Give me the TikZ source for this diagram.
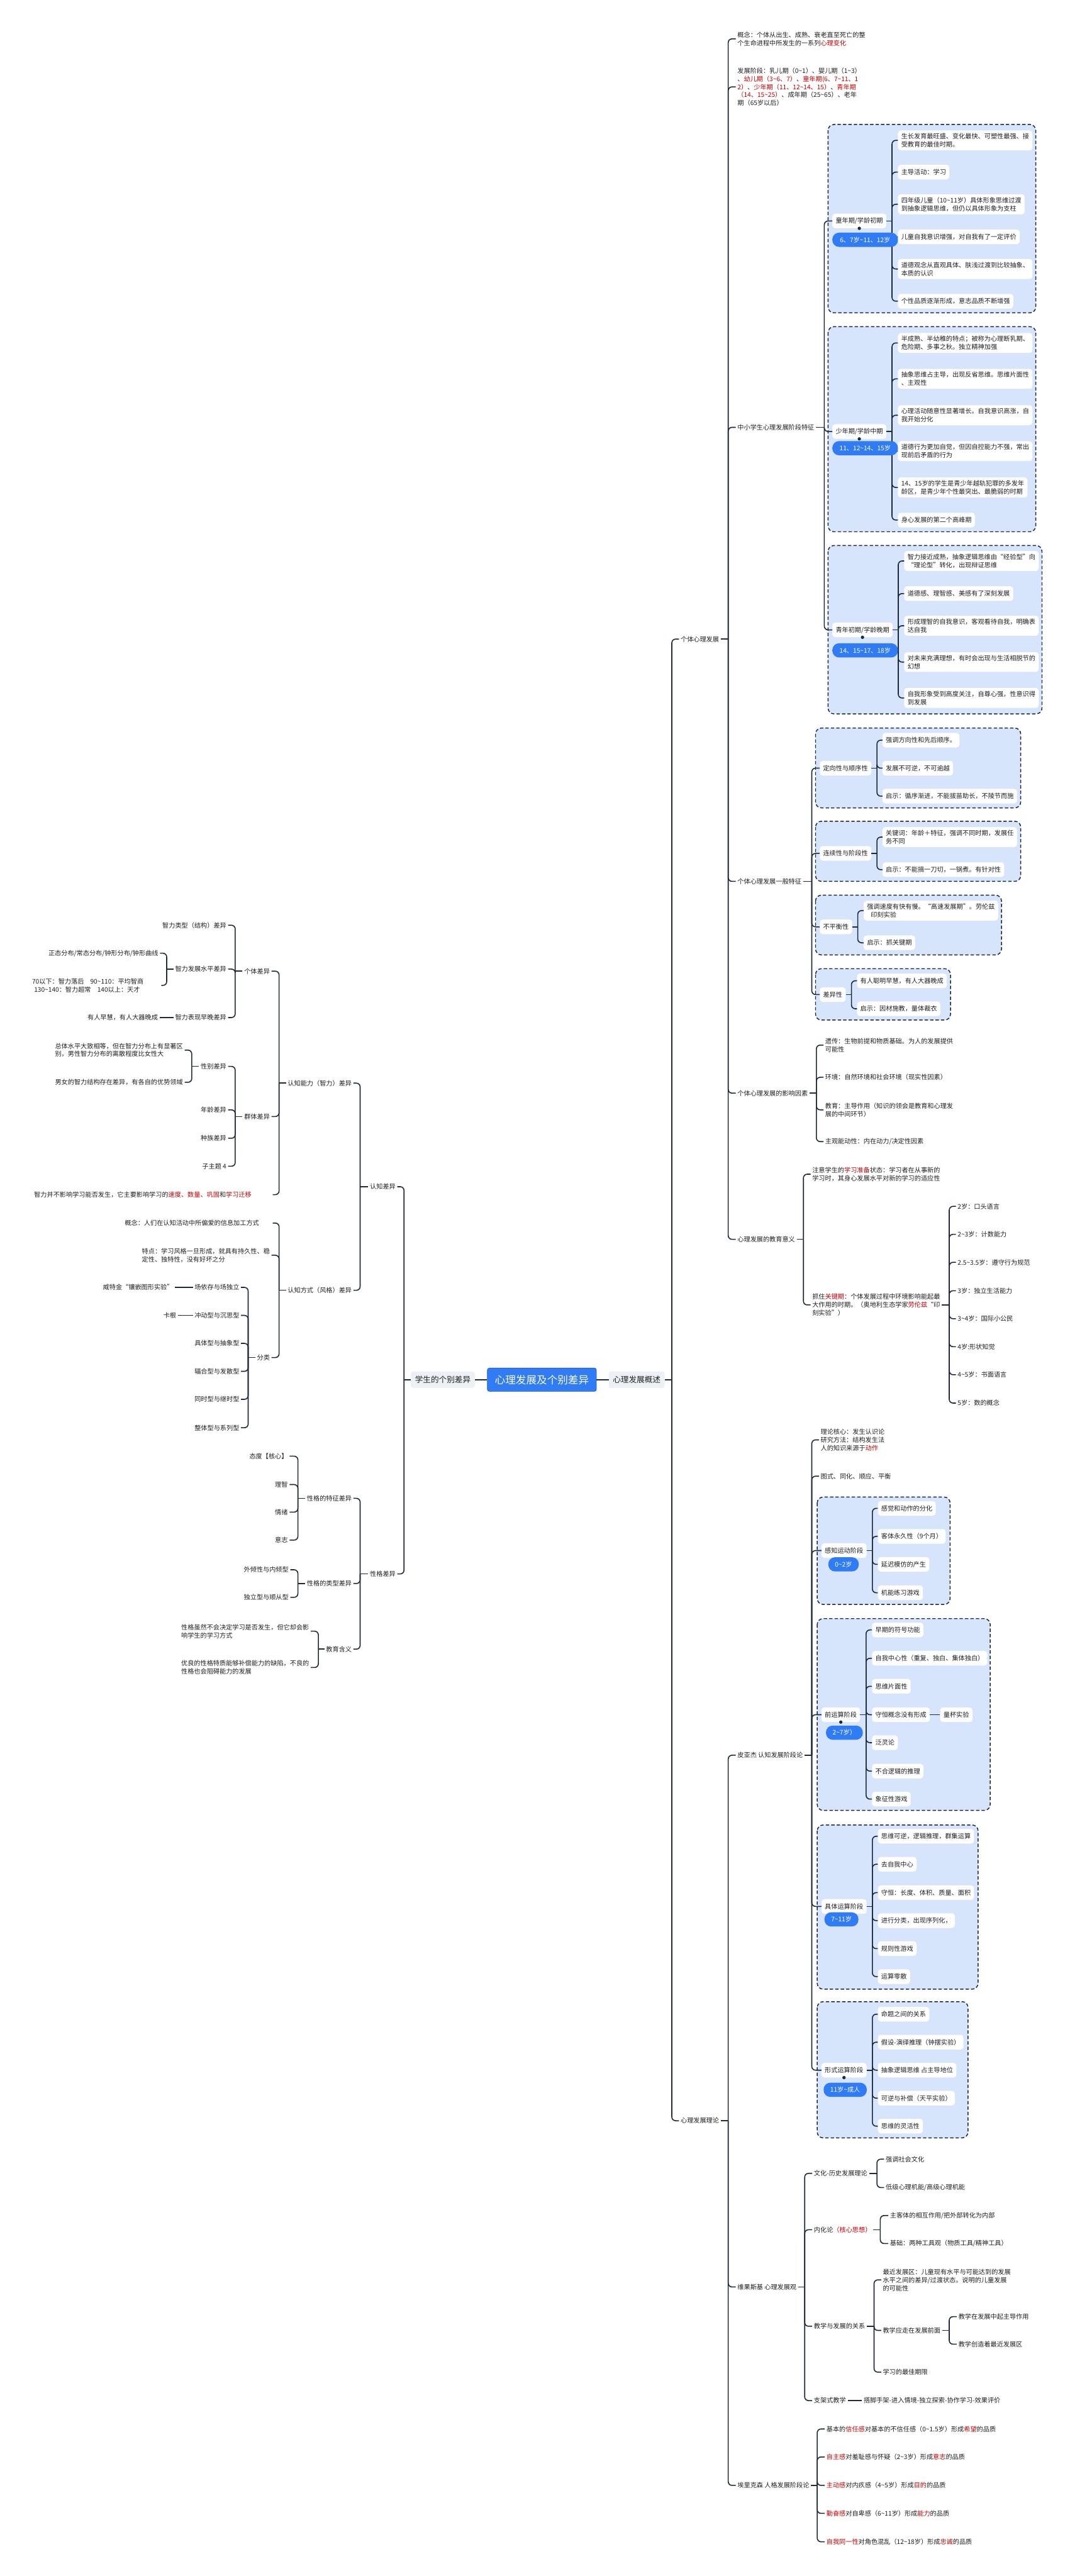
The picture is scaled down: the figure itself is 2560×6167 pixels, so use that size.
\documentclass[tikz,border=0pt]{standalone}
\usepackage{fontspec}
\setmainfont{Noto Sans CJK SC}
\usetikzlibrary{positioning}
\definecolor{xian}{HTML}{1D2A3B}
\definecolor{lan}{HTML}{2F7CF6}
\definecolor{qianlan}{HTML}{D6E4FC}
\definecolor{huibai}{HTML}{EDF1F6}
\definecolor{hong}{HTML}{C00000}
\definecolor{mo}{HTML}{1F1F1F}
\newcommand\hong[1]{\textcolor{hong}{#1}}
\newcommand\dao{\textasciitilde}
% 右侧分支：父节点 -> 竖线 -> 子节点
\newcommand\youlian[3]{%
  \draw[lianjie] (#1.east) -- (#1.east -| #2);
  \foreach \zi in {#3}{\draw[lianjie] (#1.east -| #2) |- (\zi.west);}}
% 左侧分支
\newcommand\zuolian[3]{%
  \draw[lianjie] (#1.west) -- (#1.west -| #2);
  \foreach \zi in {#3}{\draw[lianjie] (#1.west -| #2) |- (\zi.east);}}

\begin{document}
\begin{tikzpicture}[
  x=1pt, y=-1pt,
  font=\fontsize{15.3pt}{19.5pt}\selectfont,
  wenzi/.style={inner xsep=4pt, inner ysep=3pt, align=left, text=mo},
  you/.style={wenzi, anchor=west},
  zuo/.style={wenzi, anchor=east},
  baikuang/.style={fill=white, rounded corners=7pt, inner xsep=8pt, inner ysep=7pt,
                   minimum height=35pt, align=left, text=mo, anchor=west},
  jiaonang/.style={fill=lan, text=white, rounded corners=16pt, inner xsep=16pt,
                   inner ysep=4pt, minimum height=34pt},
  quyu/.style={draw=xian, fill=qianlan, line width=2.2pt, rounded corners=14pt,
               dash pattern=on 8pt off 5pt},
  lianjie/.style={draw=xian, line width=2.4pt, rounded corners=9pt},
  zhuti/.style={fill=lan, draw=lan!70!black, line width=1pt, text=white,
                font=\fontsize{25pt}{30pt}\selectfont, rounded corners=5pt,
                minimum width=261pt, minimum height=56pt},
  erji/.style={fill=huibai, text=mo, rounded corners=6pt,
               font=\fontsize{19pt}{23pt}\selectfont, inner xsep=10pt, minimum height=40pt}
]
\fill[white] (0,0) rectangle (2560,6167);
\useasboundingbox (0,0) rectangle (2560,6167);

% ---- 虚线区域 ----------------------------------------------------
\draw[quyu] (1982,298) rectangle (2479,749);    % 童年期
\draw[quyu] (1982,782) rectangle (2479,1273);   % 少年期
\draw[quyu] (1982,1306) rectangle (2494,1709);  % 青年初期
\draw[quyu] (1952,1743) rectangle (2443,1934);
\draw[quyu] (1952,1966) rectangle (2443,2110);
\draw[quyu] (1952,2143) rectangle (2397,2286);
\draw[quyu] (1952,2319) rectangle (2275,2442);
\draw[quyu] (1956,3584) rectangle (2274,3841);  % 感知运动
\draw[quyu] (1956,3875) rectangle (2370,4334);  % 前运算
\draw[quyu] (1956,4369) rectangle (2341,4762);  % 具体运算
\draw[quyu] (1956,4792) rectangle (2317,5118);  % 形式运算

% ---- 竖线位置 ----------------------------------------------------
\coordinate (k1) at (1608,0);  \coordinate (k2) at (1743,0);
\coordinate (k3) at (1973,0);  \coordinate (k4) at (2135,0);
\coordinate (k5) at (2150,0);  \coordinate (k6) at (1943,0);
\coordinate (k7) at (2099,0);  \coordinate (k8) at (2053,0);
\coordinate (k9) at (2038,0);  \coordinate (k10) at (1954,0);
\coordinate (k11) at (1923,0); \coordinate (k12) at (2272,0);
\coordinate (k13) at (2088,0); \coordinate (k14) at (2073,0);
\coordinate (k15) at (1926,0); \coordinate (k16) at (2107,0);
\coordinate (k17) at (2092,0); \coordinate (k18) at (1956,0);
\coordinate (m1) at (967,0);   \coordinate (m2) at (862,0);
\coordinate (m3) at (668,0);   \coordinate (m4) at (563,0);
\coordinate (m5) at (399,0);   \coordinate (m6) at (459,0);
\coordinate (m7) at (594,0);   \coordinate (m8) at (713,0);
\coordinate (m9) at (762,0);

% ---- 中心 ----------------------------------------------------------
\node[zhuti] (gen) at (1297,3303) {心理发展及个别差异};
\node[erji] (gaishu) at (1524,3303) {心理发展概述};
\node[erji] (chayi) at (1060,3303) {学生的个别差异};

% ---- 个体心理发展 --------------------------------------------------
\node[you] (geti) at (1625,1530) {个体心理发展};
\node[you] (lilun) at (1625,5077) {心理发展理论};
\node[you] (gn) at (1761,93) {概念：个体从出生、成熟、衰老直至死亡的整\\个生命进程中所发生的一系列\hong{心理变化}};
\node[you] (jd) at (1761,208) {发展阶段：乳儿期（0\dao{}1）、婴儿期（1\dao{}3）\\、\hong{幼儿期（3\dao{}6、7）}、\hong{童年期(6、7\dao{}11、1}\\\hong{2）}、\hong{少年期（11、12\dao{}14、15）}、\hong{青年期}\\\hong{（14、15\dao{}25）}、成年期（25\dao{}65）、老年\\期（65岁以后）};
\node[you] (zx) at (1761,1023) {中小学生心理发展阶段特征};
\node[you] (yb) at (1761,2110) {个体心理发展一般特征};
\node[you] (yx) at (1761,2617) {个体心理发展的影响因素};
\node[you] (jy) at (1761,2967) {心理发展的教育意义};

\node[baikuang] (tn) at (1992,529) {童年期/学龄初期};
\node[baikuang] (tn1) at (2149,336) {生长发育最旺盛、变化最快、可塑性最强、接\\受教育的最佳时期。};
\node[baikuang] (tn2) at (2149,412) {主导活动：学习};
\node[baikuang] (tn3) at (2149,489) {四年级儿童（10\dao{}11岁）具体形象思维过渡\\到抽象逻辑思维，但仍以具体形象为支柱};
\node[baikuang] (tn4) at (2149,567) {儿童自我意识增强，对自我有了一定评价};
\node[baikuang] (tn5) at (2149,644) {道德观念从直观具体、肤浅过渡到比较抽象、\\本质的认识};
\node[baikuang] (tn6) at (2149,721) {个性品质逐渐形成，意志品质不断增强};

\node[baikuang] (sn) at (1992,1033) {少年期/学龄中期};
\node[baikuang] (sn1) at (2149,821) {半成熟、半幼稚的特点；被称为心理断乳期、\\危险期、多事之秋。独立精神加强};
\node[baikuang] (sn2) at (2149,907) {抽象思维占主导，出现反省思维。思维片面性\\、主观性};
\node[baikuang] (sn3) at (2149,994) {心理活动随意性显著增长。自我意识高涨，自\\我开始分化};
\node[baikuang] (sn4) at (2149,1080) {道德行为更加自觉，但因自控能力不强，常出\\现前后矛盾的行为};
\node[baikuang] (sn5) at (2149,1167) {14、15岁的学生是青少年越轨犯罪的多发年\\龄区，是青少年个性最突出、最脆弱的时期};
\node[baikuang] (sn6) at (2149,1245) {身心发展的第二个高峰期};

\node[baikuang] (qn) at (1992,1508) {青年初期/学龄晚期};
\node[baikuang] (qn1) at (2164,1343) {智力接近成熟，抽象逻辑思维由“经验型”向\\“理论型”转化，出现辩证思维};
\node[baikuang] (qn2) at (2164,1421) {道德感、理智感、美感有了深刻发展};
\node[baikuang] (qn3) at (2164,1498) {形成理智的自我意识，客观看待自我，明确表\\达自我};
\node[baikuang] (qn4) at (2164,1585) {对未来充满理想，有时会出现与生活相脱节的\\幻想};
\node[baikuang] (qn5) at (2164,1671) {自我形象受到高度关注，自尊心强，性意识得\\到发展};

\node[baikuang] (dx) at (1962,1839) {定向性与顺序性};
\node[baikuang] (dx1) at (2112,1772) {强调方向性和先后顺序。};
\node[baikuang] (dx2) at (2112,1839) {发展不可逆，不可逾越};
\node[baikuang] (dx3) at (2112,1906) {启示：循序渐进，不能拔苗助长，不陵节而施};
\node[baikuang] (lx) at (1962,2043) {连续性与阶段性};
\node[baikuang] (lx1) at (2112,2004) {关键词：年龄＋特征，强调不同时期，发展任\\务不同};
\node[baikuang] (lx2) at (2112,2082) {启示：不能搞一刀切，一锅煮。有针对性};
\node[baikuang] (bp) at (1962,2219) {不平衡性};
\node[baikuang] (bp1) at (2067,2180) {强调速度有快有慢。“高速发展期”。劳伦兹\\\hspace*{9pt}印刻实验};
\node[baikuang] (bp2) at (2067,2257) {启示：抓关键期};
\node[baikuang] (cy) at (1962,2381) {差异性};
\node[baikuang] (cy1) at (2051,2348) {有人聪明早慧，有人大器晚成};
\node[baikuang] (cy2) at (2051,2415) {启示：因材施教，量体裁衣};

\node[you] (yx1) at (1971,2502) {遗传：生物前提和物质基础。为人的发展提供\\可能性};
\node[you] (yx2) at (1971,2579) {环境：自然环境和社会环境（现实性因素）};
\node[you] (yx3) at (1971,2657) {教育：主导作用（知识的领会是教育和心理发\\展的中间环节）};
\node[you] (yx4) at (1971,2733) {主观能动性：内在动力/决定性因素};

\node[you] (jy1) at (1940,2811) {注意学生的\hong{学习准备}状态：学习者在从事新的\\学习时，其身心发展水平对新的学习的适应性};
\node[you] (jy2) at (1940,3124) {抓住\hong{关键期}：个体发展过程中环境影响能起最\\大作用的时期。（奥地利生态学家\hong{劳伦兹}“印\\刻实验”）};
\node[you] (gj1) at (2288,2888) {2岁：口头语言};
\node[you] (gj2) at (2288,2955) {2\dao{}3岁：计数能力};
\node[you] (gj3) at (2288,3022) {2.5\dao{}3.5岁：遵守行为规范};
\node[you] (gj4) at (2288,3090) {3岁：独立生活能力};
\node[you] (gj5) at (2288,3157) {3\dao{}4岁：国际小公民};
\node[you] (gj6) at (2288,3224) {4岁:形状知觉};
\node[you] (gj7) at (2288,3291) {4\dao{}5岁：书面语言};
\node[you] (gj8) at (2288,3359) {5岁：数的概念};

% ---- 心理发展理论 --------------------------------------------------
\node[you] (pj) at (1761,4202) {皮亚杰 认知发展阶段论};
\node[you] (pj1) at (1960,3447) {理论核心：发生认识论\\研究方法：结构发生法\\人的知识来源于\hong{动作}};
\node[you] (pj2) at (1960,3534) {图式、同化、顺应、平衡};

\node[baikuang] (gz) at (1966,3712) {感知运动阶段};
\node[baikuang] (gz1) at (2101,3611) {感觉和动作的分化};
\node[baikuang] (gz2) at (2101,3678) {客体永久性（9个月）};
\node[baikuang] (gz3) at (2101,3745) {延迟模仿的产生};
\node[baikuang] (gz4) at (2101,3813) {机能练习游戏};

\node[baikuang] (qy) at (1966,4105) {前运算阶段};
\node[baikuang] (qy1) at (2087,3902) {早期的符号功能};
\node[baikuang] (qy2) at (2087,3970) {自我中心性（重复、独白、集体独白）};
\node[baikuang] (qy3) at (2087,4037) {思维片面性};
\node[baikuang] (qy4) at (2087,4105) {守恒概念没有形成};
\node[baikuang] (qy5) at (2087,4172) {泛灵论};
\node[baikuang] (qy6) at (2087,4240) {不合逻辑的推理};
\node[baikuang] (qy7) at (2087,4307) {象征性游戏};
\node[baikuang] (qyx) at (2250,4105) {量杯实验};

\node[baikuang] (jt) at (1966,4564) {具体运算阶段};
\node[baikuang] (jt1) at (2101,4396) {思维可逆，逻辑推理，群集运算};
\node[baikuang] (jt2) at (2101,4463) {去自我中心};
\node[baikuang] (jt3) at (2101,4531) {守恒：长度、体积、质量、面积};
\node[baikuang] (jt4) at (2101,4598) {进行分类，出现序列化，};
\node[baikuang] (jt5) at (2101,4665) {规则性游戏};
\node[baikuang] (jt6) at (2101,4732) {运算零散};

\node[baikuang] (xs) at (1966,4956) {形式运算阶段};
\node[baikuang] (xs1) at (2101,4822) {命题之间的关系};
\node[baikuang] (xs2) at (2101,4889) {假设-演绎推理（钟摆实验）};
\node[baikuang] (xs3) at (2101,4956) {抽象逻辑思维 占主导地位};
\node[baikuang] (xs4) at (2101,5023) {可逆与补偿（天平实验）};
\node[baikuang] (xs5) at (2101,5090) {思维的灵活性};

\node[you] (wg) at (1761,5475) {维果斯基 心理发展观};
\node[you] (wh) at (1944,5203) {文化-历史发展理论};
\node[you] (wh1) at (2116,5169) {强调社会文化};
\node[you] (wh2) at (2116,5237) {低级心理机能/高级心理机能};
\node[you] (nh) at (1944,5338) {内化论\hong{（核心思想）}};
\node[you] (nh1) at (2126,5304) {主客体的相互作用/把外部转化为内部};
\node[you] (nh2) at (2126,5371) {基础：两种工具观（物质工具/精神工具）};
\node[you] (jf) at (1944,5569) {教学与发展的关系};
\node[you] (jf1) at (2109,5458) {最近发展区：儿童现有水平与可能达到的发展\\水平之间的差异/过渡状态。说明的儿童发展\\的可能性};
\node[you] (jf2) at (2109,5579) {教学应走在发展前面};
\node[you] (zd1) at (2290,5546) {教学在发展中起主导作用};
\node[you] (zd2) at (2290,5612) {教学创造着最近发展区};
\node[you] (jf3) at (2109,5679) {学习的最佳期限};
\node[you] (zj) at (1944,5747) {支架式教学};
\node[you] (zjx) at (2063,5747) {搭脚手架-进入情境-独立探索-协作学习-效果评价};

\node[you] (ek) at (1761,5950) {埃里克森 人格发展阶段论};
\node[you] (ek1) at (1974,5815) {基本的\hong{信任感}对基本的不信任感（0\dao{}1.5岁）形成\hong{希望}的品质};
\node[you] (ek2) at (1974,5882) {\hong{自主感}对羞耻感与怀疑（2\dao{}3岁）形成\hong{意志}的品质};
\node[you] (ek3) at (1974,5950) {\hong{主动感}对内疚感（4\dao{}5岁）形成\hong{目的}的品质};
\node[you] (ek4) at (1974,6017) {\hong{勤奋感}对自卑感（6\dao{}11岁）形成\hong{能力}的品质};
\node[you] (ek5) at (1974,6085) {\hong{自我同一性}对角色混乱（12\dao{}18岁）形成\hong{忠诚}的品质};

% ---- 学生的个别差异 ------------------------------------------------
\node[zuo] (rz) at (951,2841) {认知差异};
\node[zuo] (xg) at (951,3768) {性格差异};
\node[zuo] (nl) at (846,2593) {认知能力（智力）差异};
\node[zuo] (fs) at (846,3089) {认知方式（风格）差异};
\node[zuo] (gt) at (650,2325) {个体差异};
\node[zuo] (qt) at (650,2673) {群体差异};
\node[zuo, text width=567pt] (nlx) at (653,2860) {智力并不影响学习能否发生，它主要影响学习的\hong{速度、数量、巩固}和\hong{学习迁移}};
\node[zuo] (gt1) at (546,2215) {智力类型（结构）差异};
\node[zuo] (gt2) at (546,2320) {智力发展水平差异};
\node[zuo] (gt3) at (546,2436) {智力表现早晚差异};
\node[zuo] (sp1) at (383,2282) {正态分布/常态分布/钟形分布/钟形曲线};
\node[zuo, text width=305pt] (sp2) at (386,2359) {70以下：智力落后　90\dao{}110：平均智商\\\hspace*{5pt}130\dao{}140：智力超常　140以上：天才};
\node[zuo] (zw) at (382,2436) {有人早慧，有人大器晚成};
\node[zuo] (xb) at (546,2553) {性别差异};
\node[zuo] (xb1) at (442,2514) {总体水平大致相等，但在智力分布上有显著区\\别，男性智力分布的离散程度比女性大};
\node[zuo] (xb2) at (442,2591) {男女的智力结构存在差异，有各自的优势领域};
\node[zuo] (nq) at (546,2657) {年龄差异};
\node[zuo] (zz) at (546,2725) {种族差异};
\node[zuo] (zt) at (546,2792) {子主题 4};
\node[zuo, text width=350pt] (fs1) at (653,2928) {概念：人们在认知活动中所偏爱的信息加工方式};
\node[zuo] (fs2) at (650,3005) {特点：学习风格一旦形成，就具有持久性、稳\\定性、独特性，没有好坏之分};
\node[zuo] (fl) at (650,3250) {分类};
\node[zuo] (fl1) at (577,3082) {场依存与场独立};
\node[zuo] (fl2) at (577,3149) {冲动型与沉思型};
\node[zuo] (fl3) at (577,3216) {具体型与抽象型};
\node[zuo] (fl4) at (577,3283) {辐合型与发散型};
\node[zuo] (fl5) at (577,3350) {同时型与继时型};
\node[zuo] (fl6) at (577,3418) {整体型与系列型};
\node[zuo] (wtj) at (419,3082) {威特金“镶嵌图形实验”};
\node[zuo] (kg) at (426,3149) {卡根};
\node[zuo] (tz) at (846,3587) {性格的特征差异};
\node[zuo] (tz1) at (693,3486) {态度【核心】};
\node[zuo] (tz2) at (693,3554) {理智};
\node[zuo] (tz3) at (693,3620) {情绪};
\node[zuo] (tz4) at (693,3687) {意志};
\node[zuo] (lxg) at (846,3791) {性格的类型差异};
\node[zuo] (lxg1) at (695,3758) {外倾性与内倾型};
\node[zuo] (lxg2) at (695,3824) {独立型与顺从型};
\node[zuo] (jh) at (846,3948) {教育含义};
\node[zuo] (jh1) at (744,3905) {性格虽然不会决定学习是否发生，但它却会影\\响学生的学习方式};
\node[zuo] (jh2) at (744,3992) {优良的性格特质能够补偿能力的缺陷，不良的\\性格也会阻碍能力的发展};

% ---- 连线 ----------------------------------------------------------
\draw[lianjie] (gen.west) -- (chayi.east);
\draw[lianjie] (gen.east) -- (gaishu.west);
\youlian{gaishu}{k1}{geti,lilun}
\youlian{geti}{k2}{gn,jd,zx,yb,yx,jy}
\youlian{zx}{k3}{tn,sn,qn}
\youlian{tn}{k4}{tn1,tn2,tn3,tn4,tn5,tn6}
\youlian{sn}{k4}{sn1,sn2,sn3,sn4,sn5,sn6}
\youlian{qn}{k5}{qn1,qn2,qn3,qn4,qn5}
\youlian{yb}{k6}{dx,lx,bp,cy}
\youlian{dx}{k7}{dx1,dx2,dx3}
\youlian{lx}{k7}{lx1,lx2}
\youlian{bp}{k8}{bp1,bp2}
\youlian{cy}{k9}{cy1,cy2}
\youlian{yx}{k10}{yx1,yx2,yx3,yx4}
\youlian{jy}{k11}{jy1,jy2}
\youlian{jy2}{k12}{gj1,gj2,gj3,gj4,gj5,gj6,gj7,gj8}
\youlian{lilun}{k2}{pj,wg,ek}
\youlian{pj}{k6}{pj1,pj2,gz,qy,jt,xs}
\youlian{gz}{k13}{gz1,gz2,gz3,gz4}
\youlian{qy}{k14}{qy1,qy2,qy3,qy4,qy5,qy6,qy7}
\youlian{jt}{k13}{jt1,jt2,jt3,jt4,jt5,jt6}
\youlian{xs}{k13}{xs1,xs2,xs3,xs4,xs5}
\youlian{wg}{k15}{wh,nh,jf,zj}
\youlian{wh}{k7}{wh1,wh2}
\youlian{nh}{k16}{nh1,nh2}
\youlian{jf}{k17}{jf1,jf2,jf3}
\youlian{jf2}{k12}{zd1,zd2}
\youlian{ek}{k18}{ek1,ek2,ek3,ek4,ek5}
\draw[lianjie] (qy4.east) -- (qyx.west);
\draw[lianjie] (zj.east) -- (zjx.west);

\zuolian{chayi}{m1}{rz,xg}
\zuolian{rz}{m2}{nl,fs}
\zuolian{xg}{m2}{tz,lxg,jh}
\zuolian{nl}{m3}{gt,qt,nlx}
\zuolian{fs}{m3}{fs1,fs2,fl}
\zuolian{gt}{m4}{gt1,gt2,gt3}
\zuolian{qt}{m4}{xb,nq,zz,zt}
\zuolian{gt2}{m5}{sp1,sp2}
\zuolian{xb}{m6}{xb1,xb2}
\zuolian{fl}{m7}{fl1,fl2,fl3,fl4,fl5,fl6}
\zuolian{tz}{m8}{tz1,tz2,tz3,tz4}
\zuolian{lxg}{m8}{lxg1,lxg2}
\zuolian{jh}{m9}{jh1,jh2}
\draw[lianjie] (gt3.west) -- (zw.east);
\draw[lianjie] (fl1.west) -- (wtj.east);
\draw[lianjie] (fl2.west) -- (kg.east);

% ---- 年龄标签 ------------------------------------------------------
\foreach \n in {tn,sn,qn,qy,xs} \fill[xian] (\n.south) circle (4pt);
\node[jiaonang, anchor=west, minimum width=157pt] (tnA) at (1992,574) {6、7岁\dao{}11、12岁};
\node[jiaonang, anchor=west, minimum width=157pt] (snA) at (1992,1073) {11、12\dao{}14、15岁};
\node[jiaonang, anchor=west, minimum width=157pt] (qnA) at (1992,1557) {14、15\dao{}17、18岁};
\node[jiaonang] (gzA) at (2019,3745) {0\dao{}2岁};
\node[jiaonang] (qyA) at (2021,4148) {2\dao{}7岁）};
\node[jiaonang] (jtA) at (2014,4595) {7\dao{}11岁};
\node[jiaonang] (xsA) at (2023,5003) {11岁\dao{}成人};

\end{tikzpicture}
\end{document}
